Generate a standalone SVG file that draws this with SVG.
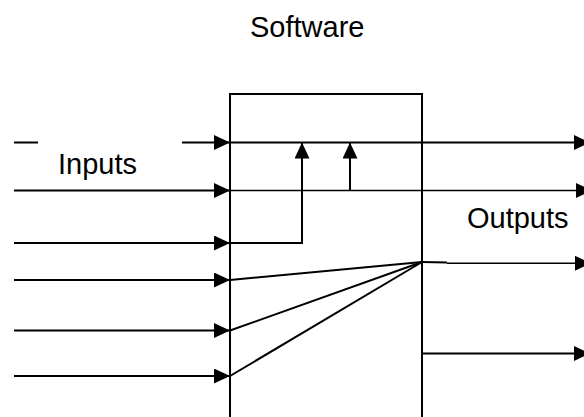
<svg xmlns="http://www.w3.org/2000/svg" width="584" height="417" viewBox="0 0 584 417">
  <style>
    .ln { fill: none; stroke: #000; stroke-width: 2; }
    .thin { fill: none; stroke: #000; stroke-width: 1.6; }
    .arr { marker-end: url(#ah); }
    .lbl { font-family: "Liberation Sans", Arial, sans-serif; font-size: 29px; fill: #000; }
  </style>
  <defs>
    <marker id="ah" markerUnits="userSpaceOnUse" markerWidth="16" markerHeight="15" refX="16" refY="7.5" orient="auto">
      <path d="M0,0 L16,7.5 L0,15 Z" fill="#000"/>
    </marker>
  </defs>
  <rect width="584" height="417" fill="#fff"/>

  <g id="software">
    <rect x="230" y="94" width="192" height="340" class="ln"/>
    <text class="lbl" x="250" y="37">Software</text>
  </g>
  <g id="inputs-label">
    <text class="lbl" x="58" y="174">Inputs</text>
  </g>
  <g id="outputs-label">
    <text class="lbl" x="467" y="228">Outputs</text>
  </g>

  <g id="connectors">
    <!-- inputs -->
    <line class="ln" x1="14" y1="142.5" x2="38" y2="142.5"/>
    <line class="ln arr" x1="182" y1="142.5" x2="230" y2="142.5"/>
    <line class="ln arr" x1="14" y1="190.5" x2="230" y2="190.5"/>
    <line class="ln arr" x1="14" y1="243" x2="230" y2="243"/>
    <line class="ln arr" x1="14" y1="280" x2="230" y2="280"/>
    <line class="ln arr" x1="14" y1="330.5" x2="230" y2="330.5"/>
    <line class="ln arr" x1="14" y1="376" x2="230" y2="376"/>

    <!-- internal -->
    <polyline class="ln arr" points="230,243 302,243 302,142.5"/>
    <line class="ln arr" x1="350" y1="190.5" x2="350" y2="142.5"/>
    <line class="thin" x1="230" y1="190.5" x2="447" y2="190.5"/>
    <line class="ln" x1="230" y1="280" x2="422" y2="262"/>
    <line class="ln" x1="230" y1="330.5" x2="422" y2="262"/>
    <line class="ln" x1="230" y1="376" x2="422" y2="262"/>
    <line class="ln" x1="422" y1="262" x2="447" y2="262.5"/>

    <!-- outputs -->
    <line class="ln arr" x1="230" y1="142.5" x2="590" y2="142.5"/>
    <line class="thin arr" x1="447" y1="190.5" x2="592" y2="190.5"/>
    <line class="thin arr" x1="447" y1="263.3" x2="591" y2="263.3"/>
    <line class="ln arr" x1="422" y1="353.5" x2="590" y2="353.5"/>
  </g>
</svg>
